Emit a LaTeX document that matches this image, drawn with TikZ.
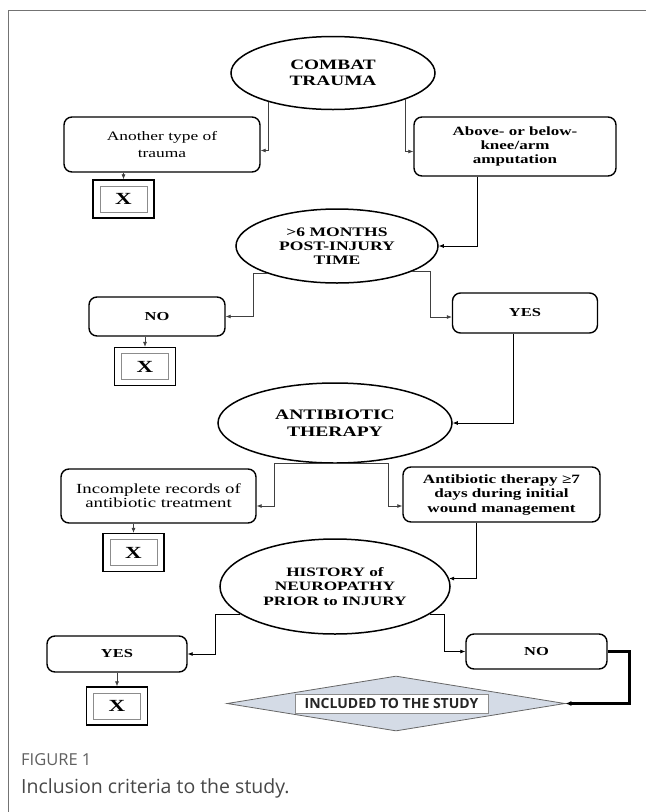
\documentclass[tikz,border=0pt]{standalone}
\usepackage{fontspec}
\usepackage{xcolor}
\usepackage{tikz}
\usetikzlibrary{shapes.geometric, arrows.meta, calc}
\newfontfamily\diagfont[FakeStretch=1.35]{Liberation Serif}
\newfontfamily\capfont{Open Sans}
\newcommand\diagB[2]{\diagfont\bfseries\fontsize{#1}{#2}\selectfont}
\newcommand\diagR[2]{\diagfont\fontsize{#1}{#2}\selectfont}
\definecolor{diafill}{RGB}{212, 219, 230}
\definecolor{capgray}{RGB}{95, 95, 95}

\begin{document}
\begin{tikzpicture}[x=1pt, y=-1pt,
  oval/.style={ellipse, draw, line width=1.5pt, inner sep=0pt, align=center},
  rbox/.style={rectangle, rounded corners=8pt, draw, line width=1.4pt, inner sep=0pt, align=center},
  stopbox/.style={rectangle, draw, line width=1.3pt, minimum width=61pt, minimum height=38pt, inner sep=0pt,
    font=\diagB{17}{17},
    path picture={\draw[black!45, line width=0.8pt]
      ([shift={(7pt,-6pt)}]path picture bounding box.north west) rectangle
      ([shift={(-7pt,6pt)}]path picture bounding box.south east);}},
  link/.style={-{Latex[length=5pt,width=4pt]}, draw=black!75, line width=0.7pt}]
\useasboundingbox (0,0) rectangle (646,812);
% Frame
\draw[black!55, line width=0.9pt] (8.5,812) -- (8.5,10.5) -- (646,10.5);
% Decisions
\node[oval, minimum width=204pt, minimum height=73pt, font=\diagB{14.3}{16.5}] (combat) at (333,73) {COMBAT\\TRAUMA};
\node[oval, minimum width=202pt, minimum height=74pt, font=\diagB{13}{14.3}] (sixmo) at (337,246) {>6 MONTHS\\POST-INJURY\\TIME};
\node[oval, minimum width=234pt, minimum height=80pt, font=\diagB{14.5}{16.7}] (anti) at (335,423) {ANTIBIOTIC\\THERAPY};
\node[oval, minimum width=230pt, minimum height=95pt, font=\diagB{12.8}{14.3}] (hist) at (335,586.5) {HISTORY of\\NEUROPATHY\\PRIOR to INJURY};
% Answers
\node[rbox, minimum width=196pt, minimum height=55pt, font=\diagR{12.9}{16.7}] (another) at (162,144.5) {Another type of\\trauma};
\node[rbox, minimum width=202pt, minimum height=59pt, font=\diagB{12.6}{14}] (amput) at (515,146.5) {Above- or below-\\knee/arm\\amputation};
\node[rbox, minimum width=136pt, minimum height=39pt, font=\diagB{12.2}{14}] (no1) at (157,316.5) {NO};
\node[rbox, minimum width=145pt, minimum height=40pt, font=\diagB{12.2}{14}] (yes1) at (525,313) {YES};
\node[rbox, minimum width=195pt, minimum height=54pt, font=\diagR{13.9}{14.3}] (incomp) at (158.5,496) {Incomplete records of\\antibiotic treatment};
\node[rbox, minimum width=197pt, minimum height=55pt, font=\diagB{12.7}{14.5}] (abx7) at (501.5,494.5) {Antibiotic therapy ≥7\\days during initial\\wound management};
\node[rbox, minimum width=140pt, minimum height=36pt, font=\diagB{12.2}{14}] (yes2) at (117,654) {YES};
\node[rbox, minimum width=141pt, minimum height=35pt, font=\diagB{12.2}{14}] (no2) at (536.5,651.5) {NO};
% Excluded
\node[stopbox] (xa) at (123.5,199) {X};
\node[stopbox] (xb) at (145,366.5) {X};
\node[stopbox] (xc) at (133.5,552.5) {X};
\node[stopbox] (xd) at (117,706) {X};
% Result
\node[diamond, draw=black!60, fill=diafill, line width=0.8pt, minimum width=338pt, minimum height=55pt, inner sep=0pt] (included) at (396,703.5) {};
\node[draw=black!45, fill=white, line width=0.8pt, minimum width=193pt, minimum height=19pt, inner sep=0pt,
  font=\capfont\bfseries\fontsize{14}{14}\selectfont, text=black!85] (incltxt) at (391.5,703.5) {INCLUDED TO THE STUDY};
% Connectors
\draw[link] (combat.204) |- ([yshift=-6pt]another.east);
\draw[link] (combat.340) |- ([yshift=-5pt]amput.west);
\draw[link] (xa.north |- another.south) -- (xa.north);
\draw[link, draw=black] ([xshift=-38pt]amput.south) |- (sixmo.east);
\draw[link] (sixmo.202) -| ([xshift=28pt]no1.east) -- (no1.east);
\draw[link] (sixmo.341) -| ([shift={(-21pt,-4pt)}]yes1.west) -- ([yshift=-4pt]yes1.west);
\draw[link] (xb.north |- no1.south) -- (xb.north);
\draw[link, draw=black] ([xshift=-12pt]yes1.south) |- (anti.east);
\draw[link] (anti.south) -| ([shift={(18pt,-10pt)}]incomp.east) -- ([yshift=-10pt]incomp.east);
\draw[link] (anti.south) -| ([shift={(-14pt,-11.5pt)}]abx7.west) -- ([yshift=-11.5pt]abx7.west);
\draw[link] (xc.north |- incomp.south) -- (xc.north);
\draw[link, draw=black] ([xshift=-25.5pt]abx7.south) |- (hist.4);
\draw[link, draw=black] (hist.196) -| ([xshift=28pt]yes2.east) -- (yes2.east);
\draw[link, draw=black] (hist.344) -| ([xshift=-21pt]no2.west) -- (no2.west);
\draw[link] (xd.north |- yes2.south) -- (xd.north);
\draw[-{Latex[length=6pt,width=5pt]}, line width=2.2pt] (no2.east) -| ([xshift=64pt]included.east) -- (included.east);
% Caption
\node[anchor=base west, inner sep=0pt, font=\capfont\fontsize{16.5}{18}\selectfont, text=capgray] (figno) at (21,765) {FIGURE 1};
\node[anchor=base west, inner sep=0pt, font=\capfont\fontsize{19.5}{22}\selectfont, text=black!72] (caption) at (21,793) {Inclusion criteria to the study.};
\end{tikzpicture}
\end{document}
